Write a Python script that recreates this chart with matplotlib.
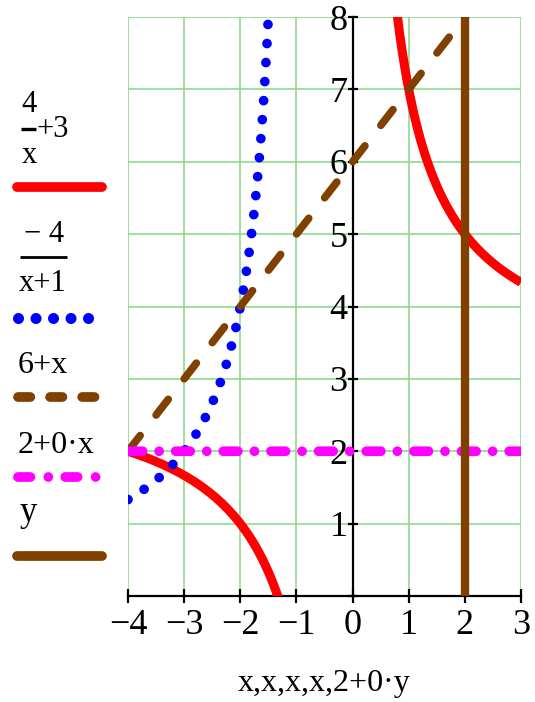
import numpy as np
import matplotlib
matplotlib.use("Agg")
import matplotlib.pyplot as plt
from matplotlib.lines import Line2D

plt.rcParams['font.family'] = ['Liberation Serif', 'DejaVu Serif']

# axis ranges and ticks
x_min, x_max = -4, 3
y_min, y_max = 0, 8
x_ticks = [-4, -3, -2, -1, 0, 1, 2, 3]
x_tick_labels = ['\u22124', '\u22123', '\u22122', '\u22121', '0', '1', '2', '3']
y_ticks = [0, 1, 2, 3, 4, 5, 6, 7, 8]
y_tick_labels = ['', '1', '2', '3', '4', '5', '6', '7', '8']

# traces as defined in the worksheet
x_line = 2           # x = 2 + 0*y
y_const = 2          # 2 + 0*x
slope_offset = 6     # 6 + x

# legend labels (fractions are split into numerator / tail / denominator)
frac1 = ('4', '+3', 'x')
frac2 = ('\u2212 4', '', 'x+1')
legend_plain = ['6+x', '2+0\u00b7x', 'y']

grid_green = '#8edc8e'
red = '#ff0000'
blue = '#0000ff'
brown = '#804000'
magenta = '#ff00ff'

W, H = 535, 702
fig = plt.figure(figsize=(W / 100, H / 100), dpi=100)
ax = fig.add_axes([128 / W, (H - 596) / H, (521 - 128) / W, (596 - 17) / H])

x = np.linspace(x_min, x_max, 2001)

# 4/x + 3, split at the asymptote
xs = np.where(x == 0, 1, x)
f1 = 4 / xs + 3
f1[np.abs(x) < 0.3] = np.nan
# -4/(x+1), split at the asymptote
den = np.where(x == -1, 1, x + 1)
f2 = -4 / den
f2[np.abs(x + 1) < 0.3] = np.nan
f3 = slope_offset + x
f4 = y_const + 0 * x
yy = np.linspace(y_min, y_max, 50)

ax.plot(x, f1, color=red, lw=6.5, solid_capstyle='butt', zorder=5)
ax.plot(x, f2, color=blue, lw=7, linestyle=(0, (0.001, 1.96)),
        dash_capstyle='round', zorder=6)
ax.plot(x, f3, color=brown, lw=5.5, linestyle=(0, (2.6, 3.4)),
        dash_capstyle='round', zorder=7)
ax.plot(x, f4, color=magenta, lw=7, linestyle=(0, (1.5, 1.7, 0.001, 1.7)),
        dash_capstyle='round', zorder=8)
ax.plot(x_line + 0 * yy, yy, color=brown, lw=6, solid_capstyle='butt', zorder=9)

ax.set_xlim(x_min, x_max)
ax.set_ylim(y_min, y_max)
ax.set_xticks(x_ticks)
ax.set_xticklabels(x_tick_labels)
ax.set_yticks(y_ticks)
ax.set_yticklabels(y_tick_labels)
ax.grid(True, color=grid_green, lw=1.2, zorder=0)
ax.set_axisbelow(True)

for s in ['top', 'right']:
    ax.spines[s].set_visible(False)
ax.spines['left'].set_position(('data', 0))
ax.spines['left'].set_color('black')
ax.spines['left'].set_linewidth(1.6)
ax.spines['bottom'].set_color('black')
ax.spines['bottom'].set_linewidth(1.6)
ax.tick_params(axis='x', direction='inout', length=10, width=1.6,
               labelsize=26, pad=4)
ax.tick_params(axis='y', direction='inout', length=7, width=1.6,
               labelsize=26, pad=0)

ax.set_xlabel('x,x,x,x,2+0\u00b7y', fontsize=23, labelpad=20)


def px(xp, yp):
    return xp / W, 1 - yp / H


def legend_line(x0, x1, yp, **kw):
    (a, b), (c, _) = px(x0, yp), px(x1, yp)
    fig.add_artist(Line2D([a, c], [b, b], transform=fig.transFigure, **kw))


def legend_text(xp, yp, s, size=22, ha='left'):
    fig.text(*px(xp, yp), s, fontsize=size, va='baseline', ha=ha)


# legend: fraction labels (positions are baselines)
legend_text(28.5, 112, frac1[0], ha='center')
legend_line(21, 36, 129, color='black', lw=2.4, solid_capstyle='butt')
legend_text(37, 137, frac1[1])
legend_text(29, 163, frac1[2], ha='center')

legend_text(44, 242, frac2[0], ha='center')
legend_line(20, 67, 257, color='black', lw=2.0, solid_capstyle='butt')
legend_text(43, 291, frac2[2], ha='center')

legend_text(18, 373, legend_plain[0], size=23)
legend_text(18, 453, legend_plain[1], size=23)
legend_text(20, 521, legend_plain[2], size=25)

# legend: samples
legend_line(17, 102, 187, color=red, lw=7, solid_capstyle='round')
legend_line(18, 89, 318, color=blue, lw=8, linestyle=(0, (0.001, 1.575)),
            dash_capstyle='round')
legend_line(18, 96, 397, color=brown, lw=7, linestyle=(0, (1.27, 2.03)),
            dash_capstyle='round')
legend_line(18, 100, 477, color=magenta, lw=7,
            linestyle=(0, (1.27, 1.85, 0.001, 1.74)), dash_capstyle='round')
legend_line(17, 102, 556, color=brown, lw=7, solid_capstyle='round')

fig.savefig('out.png', dpi=100)
